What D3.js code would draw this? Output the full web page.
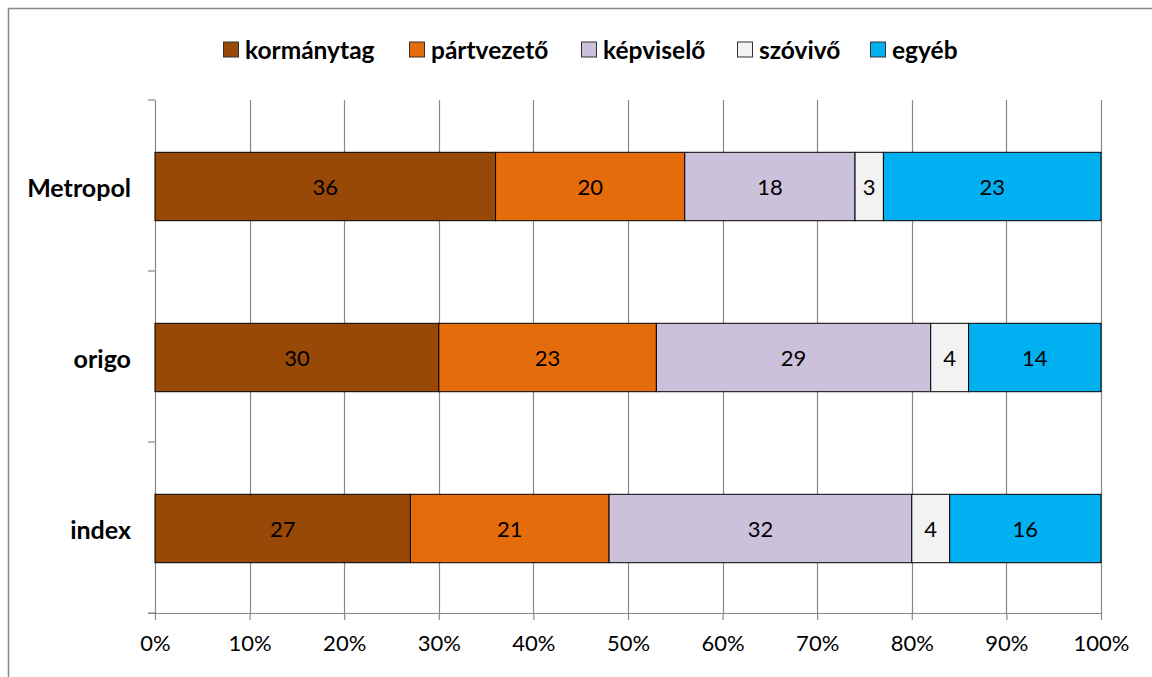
<!DOCTYPE html>
<html>
<head>
<meta charset="utf-8">
<script src="https://cdnjs.cloudflare.com/ajax/libs/d3/7.8.5/d3.min.js"></script>
<style>
  body { margin: 0; background: #fff; }
  svg text { font-family: Lato, "Open Sans", sans-serif; }
</style>
</head>
<body>
<div id="chart"></div>
<script>
// data
const categories = ["Metropol", "origo", "index"];
const seriesNames = ["kormánytag", "pártvezető", "képviselő", "szóvivő", "egyéb"];
const seriesValues = [
    [36, 30, 27],   // kormánytag
    [20, 23, 21],   // pártvezető
    [18, 29, 32],   // képviselő
    [3, 4, 4],      // szóvivő
    [23, 14, 16]    // egyéb
];
const tickValues = [0, 10, 20, 30, 40, 50, 60, 70, 80, 90, 100];
const colors = ["#984807", "#E46C0A", "#CCC1DA", "#F2F2F2", "#00B0F0"];

const W = 1152, H = 677;
const svg = d3.select("#chart").append("svg")
    .attr("width", W).attr("height", H);

// outer frame (only left and top visible)
svg.append("rect")
    .attr("x", 8.5).attr("y", 8.5)
    .attr("width", W + 10).attr("height", H + 10)
    .attr("fill", "none").attr("stroke", "#888").attr("stroke-width", 1.5);

const plotLeft = 155, plotRight = 1101, plotTop = 100, plotBottom = 613;

const x = d3.scaleLinear().domain([0, 100]).range([plotLeft, plotRight]);
const y = d3.scaleBand().domain(categories).range([plotTop + 1, plotBottom + 1]).paddingInner(0.6).paddingOuter(0.3);

// gridlines
svg.append("g").selectAll("line").data(tickValues.slice(1)).join("line")
    .attr("x1", d => Math.round(x(d)) + 0.5).attr("x2", d => Math.round(x(d)) + 0.5)
    .attr("y1", plotTop).attr("y2", plotBottom)
    .attr("stroke", "#888").attr("stroke-width", 1.2);

// x axis
const xAxis = svg.append("g")
    .attr("transform", `translate(0,${plotBottom})`)
    .call(d3.axisBottom(x).tickValues(tickValues).tickFormat(d => d + "%").tickSize(7).tickPadding(15));
xAxis.select(".domain").attr("stroke", "#888").attr("stroke-width", 1.2)
    .attr("d", `M${plotLeft - 7},0.5H${plotRight}`);
xAxis.selectAll(".tick line").attr("stroke", "#888").attr("stroke-width", 1.2);
xAxis.selectAll("text").attr("font-size", 22).attr("fill", "#000")
    .style("font-family", "Lato, sans-serif");

// y axis line and category separators
svg.append("line")
    .attr("x1", plotLeft + 0.5).attr("x2", plotLeft + 0.5)
    .attr("y1", plotTop).attr("y2", plotBottom)
    .attr("stroke", "#888").attr("stroke-width", 1.2);
const step = (plotBottom - plotTop) / categories.length;
svg.append("g").selectAll("line").data(d3.range(categories.length + 1)).join("line")
    .attr("x1", plotLeft - 7).attr("x2", plotLeft)
    .attr("y1", i => plotTop + i * step).attr("y2", i => plotTop + i * step)
    .attr("stroke", "#888").attr("stroke-width", 1.2);

svg.append("g").selectAll("text").data(categories).join("text")
    .attr("x", 131).attr("y", d => y(d) + y.bandwidth() / 2)
    .attr("text-anchor", "end").attr("dominant-baseline", "central")
    .attr("font-size", 25).attr("font-weight", "bold").attr("fill", "#000")
    .text(d => d);

// stacked bars
const rows = categories.map((c, ci) => {
    const o = { cat: c };
    seriesNames.forEach((s, si) => o[s] = seriesValues[si][ci]);
    return o;
});
const stack = d3.stack().keys(seriesNames)(rows);

const layers = svg.append("g").selectAll("g").data(stack).join("g")
    .attr("fill", (d, i) => colors[i]);
layers.selectAll("rect").data(d => d).join("rect")
    .attr("x", d => x(d[0])).attr("width", d => x(d[1]) - x(d[0]))
    .attr("y", d => y(d.data.cat)).attr("height", y.bandwidth())
    .attr("stroke", "#000").attr("stroke-width", 1);
layers.selectAll("text").data(d => d.map(v => ({ v: v, key: d.key }))).join("text")
    .attr("x", d => (x(d.v[0]) + x(d.v[1])) / 2)
    .attr("y", d => y(d.v.data.cat) + y.bandwidth() / 2)
    .attr("text-anchor", "middle").attr("dominant-baseline", "central")
    .attr("font-size", 22).attr("fill", "#000")
    .text(d => d.v.data[d.key]);

// legend
const legendX = [223, 409, 581, 737, 870];
const legend = svg.append("g").selectAll("g").data(seriesNames).join("g")
    .attr("transform", (d, i) => `translate(${legendX[i]},49.5)`);
legend.append("rect")
    .attr("x", 0.5).attr("y", -7.5).attr("width", 15).attr("height", 15)
    .attr("fill", (d, i) => colors[i]).attr("stroke", "#333").attr("stroke-width", 1);
legend.append("text")
    .attr("x", 22).attr("y", 0).attr("dominant-baseline", "central")
    .attr("font-size", 24.5).attr("font-weight", "bold").attr("fill", "#000")
    .text(d => d);
</script>
</body>
</html>
